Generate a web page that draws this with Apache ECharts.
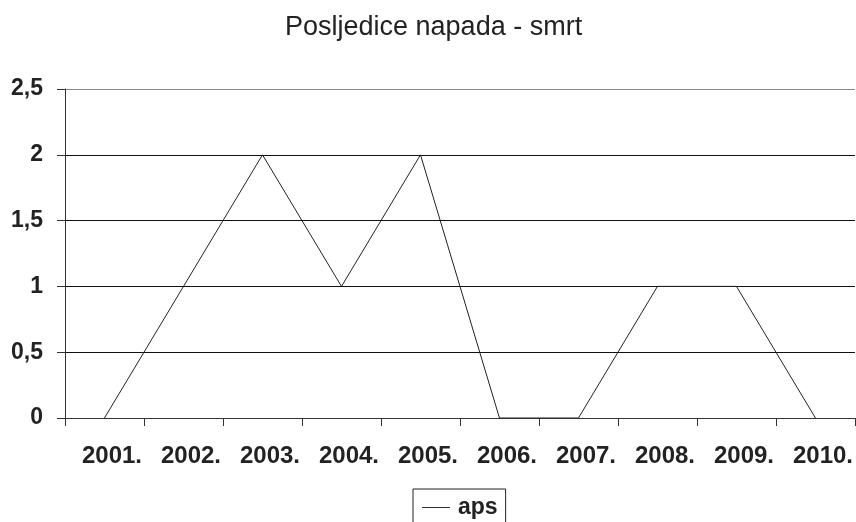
<!DOCTYPE html>
<html>
<head>
<meta charset="utf-8">
<script src="https://cdn.jsdelivr.net/npm/echarts@6/dist/echarts.min.js"></script>
<style>
  html, body { margin: 0; padding: 0; background: #fff; }
  #chart { width: 856px; height: 522px; }
</style>
</head>
<body>
<div id="chart"></div>
<script>
const years = ['2001.', '2002.', '2003.', '2004.', '2005.', '2006.', '2007.', '2008.', '2009.', '2010.']
const aps = [0, 1, 2, 1, 2, 0, 0, 1, 1, 0]

const chart = echarts.init(document.getElementById('chart'))
chart.setOption({
  animation: false,
  textStyle: { fontFamily: 'Liberation Sans, Arial, sans-serif' },
  title: {
    text: 'Posljedice napada - smrt',
    left: 280,
    top: 9,
    textStyle: { fontSize: 27, fontWeight: 'normal', color: '#222' }
  },
  grid: { left: 65, right: 1, top: 89, bottom: 104 },
  xAxis: {
    type: 'category',
    data: years,
    boundaryGap: true,
    axisLine: { lineStyle: { color: '#333', width: 1 } },
    axisTick: { show: true, length: 8, inside: false, lineStyle: { color: '#333' } },
    axisLabel: {
      fontSize: 24,
      fontWeight: 'bold',
      color: '#222',
      margin: 26,
      padding: [0, 0, 0, 15]
    }
  },
  yAxis: {
    type: 'value',
    min: 0,
    max: 2.5,
    interval: 0.5,
    axisLine: { show: true, lineStyle: { color: '#333', width: 1 } },
    axisTick: { show: true, length: 8, lineStyle: { color: '#333' } },
    axisLabel: {
      fontSize: 23,
      fontWeight: 'bold',
      color: '#222',
      margin: 22,
      formatter: (v) => String(v).replace('.', ',')
    },
    splitLine: {
      show: true,
      lineStyle: { color: ['#111', '#111', '#111', '#111', '#111', '#888'], width: 1 }
    }
  },
  legend: {
    data: ['aps'],
    top: 489,
    left: 413,
    icon: 'path://M0,0 L30,0 L30,1 L0,1 Z',
    itemWidth: 28,
    itemHeight: 1,
    itemGap: 5,
    borderColor: '#222',
    borderWidth: 1,
    padding: [7, 8, 14, 9],
    textStyle: { fontSize: 23, fontWeight: 'bold', color: '#222', padding: [0, 0, 0, 3] }
  },
  series: [
    {
      name: 'aps',
      type: 'line',
      data: aps,
      symbol: 'none',
      lineStyle: { color: '#222', width: 1 },
      itemStyle: { color: '#222' }
    }
  ]
})
</script>
</body>
</html>
